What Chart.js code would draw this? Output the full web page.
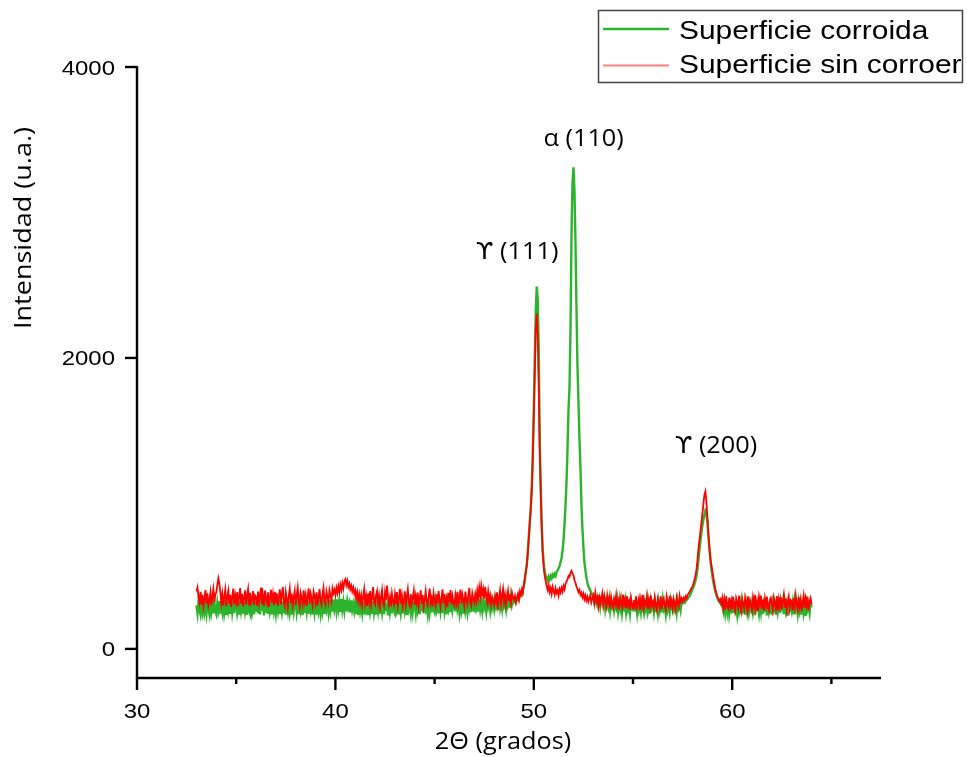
<!DOCTYPE html>
<html><head><meta charset="utf-8">
<script src="https://cdn.jsdelivr.net/npm/chart.js@4/dist/chart.umd.min.js"></script>
<style>html,body{margin:0;padding:0;background:#fff}#wrap{width:967px;height:757px}</style>
</head><body><div id="wrap"><canvas id="c" width="967" height="757"></canvas></div>
<script>
// ---- data ----
const angleStart = 33.0, angleStep = 0.05;   // 2θ grid of the scan
const seriesNames = ['Superficie corroida', 'Superficie sin corroer'];
const xTicks = [30, 35, 40, 45, 50, 55, 60, 65];
const xTickLabels = ['30', '', '40', '', '50', '', '60', ''];
const yTicks = [0, 2000, 4000];
const yTickLabels = ['0', '2000', '4000'];
const xTitle = '2Θ (grados)';
const yTitle = 'Intensidad (u.a.)';
const peakText = ['ϒ (111)', 'α (110)', 'ϒ (200)'];
const peakAt2Theta = [49.16, 52.51, 59.18];
const peakAtIntensity = [2678, 3456, 1349];

const corroida = [
300,245,322,268,236,318,262,335,250,292,241,326,274,238,331,258,309,244,320,262, // 33
238,317,270,329,242,303,256,338,248,296,233,322,265,312,240,327,251,306,246,331, // 34
314,247,290,236,330,261,305,242,324,255,299,234,318,268,243,335,252,300,239,321, // 35
256,328,244,309,238,320,263,299,231,326,249,312,241,334,257,295,237,323,260,307, // 36
243,315,266,336,240,301,254,327,245,318,236,309,262,329,248,293,235,321,257,312, // 37
328,250,304,239,319,261,296,233,332,247,310,256,325,241,300,264,317,238,327,252, // 38
309,236,324,258,298,244,331,262,315,240,326,270,306,252,337,268,320,256,339,274, // 39
318,262,340,277,329,255,343,271,322,265,338,258,327,282,312,251,334,269,305,259, // 40
316,240,302,234,325,259,296,246,321,237,311,262,291,233,318,255,304,241,327,250, // 41
298,236,317,264,330,243,306,252,322,239,309,261,296,231,328,257,314,245,335,260, // 42
242,320,266,301,237,328,253,311,244,324,259,297,233,318,270,305,248,331,256,313, // 43
305,247,327,263,298,239,322,258,336,246,310,268,293,240,329,255,317,251,338,272, // 44
251,326,270,306,244,331,262,317,248,336,257,301,238,324,275,312,253,340,266,308, // 45
320,258,338,271,304,249,329,266,315,243,334,262,309,256,341,279,318,252,327,268, // 46
262,334,281,316,257,340,274,322,266,345,285,311,259,337,290,326,270,348,283,319, // 47
276,342,293,327,268,350,286,334,279,355,297,322,273,346,301,330,284,359,305,338, // 48
322,335,318,340,352,338,365,380,372,405,430,470,540,580,680,780,880,980,1120,1350, // 49
1650,2000,2330,2490,2400,2050,1400,1100,850,680,590,530,505,488,470,495,478,502,486,510, // 50
498,515,502,528,540,556,570,598,625,680,750,860,990,1150,1380,1650,1800,2200,2850,3200, // 51
3310,3150,2800,2350,1950,1700,1450,1250,1000,830,700,600,540,490,455,430,415,400,385,372, // 52
375,332,356,318,349,302,341,287,336,315,298,344,276,329,305,281,338,264,322,290, // 53
317,262,304,281,335,258,311,276,327,249,308,285,331,255,316,270,302,244,325,279, // 54
266,318,282,303,247,329,271,309,256,323,290,250,317,275,335,259,301,243,326,284, // 55
309,254,327,279,298,245,320,266,312,251,331,273,294,240,318,268,306,257,329,285, // 56
262,318,275,304,249,326,283,311,268,322,314,320,316,328,335,342,355,362,378,392, // 57
410,425,445,470,505,550,610,680,740,800,850,890,920,950,935,870,780,690,610,550, // 58
500,460,425,395,372,350,335,322,315,301,301,262,318,248,309,256,323,241,297,270, // 59
312,247,329,266,294,238,318,259,305,243,326,271,299,236,315,262,331,250,289,268, // 60
320,254,301,233,327,268,295,244,316,257,333,240,309,275,290,231,324,262,306,249, // 61
243,317,276,303,235,329,260,311,247,325,281,298,239,320,266,308,228,315,273,296, // 62
260,314,238,326,271,297,242,318,265,309,236,330,252,301,226,312,268,290,247,321, // 63
285
];

const sinCorroer = [
395,422,356,318,392,305,371,296,348,404,312,380,299,336,389,301,366,412,322,378, // 33
388,440,485,450,392,318,377,299,361,408,294,352,397,311,372,289,356,415,306,368, // 34
322,391,296,357,418,310,379,292,350,403,305,371,412,299,385,317,344,398,301,367, // 35
356,298,394,318,372,421,307,360,293,401,335,312,389,288,351,407,320,376,301,393, // 36
313,382,296,358,410,306,371,425,327,295,389,340,288,364,414,318,380,302,355,398, // 37
301,366,419,329,290,384,350,308,402,331,372,295,356,417,312,379,343,299,393,362, // 38
318,389,297,352,411,330,305,375,420,336,309,394,359,322,403,368,331,415,382,406, // 39
372,418,384,429,392,441,406,452,415,463,478,440,468,426,449,410,433,395,421,378, // 40
402,352,389,331,374,320,368,302,359,410,315,363,296,382,325,398,306,357,425,322, // 41
305,371,398,316,366,291,352,404,321,297,387,334,436,361,309,355,294,378,326,303, // 42
372,309,391,298,346,413,311,367,290,333,395,305,358,408,320,296,376,313,351,399, // 43
302,364,318,387,295,343,402,310,370,289,337,396,324,300,361,415,316,349,293,381, // 44
330,297,375,312,398,341,291,353,410,315,379,302,346,288,385,322,405,306,362,317, // 45
296,369,320,392,305,351,408,313,374,335,292,394,341,309,366,419,322,299,381,344, // 46
318,373,330,401,349,420,361,432,374,410,343,427,368,324,392,330,366,305,355,327, // 47
301,358,322,389,298,347,402,314,366,411,326,372,303,351,399,333,375,317,386,352, // 48
338,365,320,352,378,341,395,372,410,388,445,490,530,580,660,760,870,970,1100,1320, // 49
1600,1900,2200,2306,2150,1800,1380,1080,830,650,560,500,465,430,405,440,392,418,378,425, // 50
396,372,415,385,402,366,410,388,420,395,432,410,448,465,478,502,495,525,537,518, // 51
505,472,455,430,412,390,405,372,386,355,378,342,367,333,358,326,349,371,320,346, // 52
368,315,384,329,351,296,372,309,343,381,302,359,324,290,366,318,347,276,355,312, // 53
285,342,309,368,297,331,271,356,318,288,374,305,339,280,361,299,327,268,349,310, // 54
278,336,301,362,284,319,349,270,341,296,372,283,325,306,359,274,338,292,367,301, // 55
320,281,352,299,267,344,315,286,361,274,330,349,292,268,356,311,289,365,302,334, // 56
279,341,305,270,352,318,291,364,326,347,327,350,335,361,348,372,380,392,405,418, // 57
430,452,478,505,545,610,690,750,810,870,930,1000,1060,1083,1010,905,790,700,625,575, // 58
535,490,448,410,382,360,345,328,341,312,349,285,336,270,361,296,278,352,289,330, // 59
272,358,301,265,347,319,282,366,295,258,341,310,276,353,320,268,362,289,334,303, // 60
267,349,295,371,280,326,259,354,310,366,277,339,262,345,298,360,284,263,337,351, // 61
309,268,352,318,277,364,262,340,296,357,271,329,373,284,346,266,322,359,279,335, // 62
325,264,350,291,368,309,270,357,293,338,259,320,366,282,344,298,359,266,327,348, // 63
306
];

// ---- styles / layout ----
const GREEN = '#2db42d', RED = '#ff0000';
const TICK_FONT = "21px 'Liberation Sans'";
const LEG_FONT = "26px 'Liberation Sans'";
const ANN_FONT = "23px 'Open Sans'";
const GREEK_FONT = "23px 'DejaVu Sans'";
const YT_FONT = "20px 'Open Sans'";
const SX = 1.14;

function toPoints(vals) {
  return vals.map((v, i) => ({ x: +(angleStart + i * angleStep).toFixed(2), y: v }));
}

function drawText(ctx, s, x, y, font, align, sx) {
  ctx.save();
  ctx.font = font; ctx.fillStyle = '#000';
  ctx.textAlign = align; ctx.textBaseline = 'alphabetic';
  ctx.translate(x, y); ctx.scale(sx, 1);
  ctx.fillText(s, 0, 0);
  ctx.restore();
}

// label like "ϒ (111)": Greek symbol drawn with a font that has the hooked upsilon
function drawPeakLabel(ctx, s, cx, y, sx) {
  const sym = s.charAt(0), rest = s.slice(1);
  const symFont = sym === 'ϒ' ? GREEK_FONT : ANN_FONT;
  ctx.save();
  ctx.font = symFont;
  const w1 = ctx.measureText(sym).width;
  ctx.font = ANN_FONT;
  const w2 = ctx.measureText(rest).width;
  ctx.restore();
  const x0 = cx - (w1 + w2) * sx / 2;
  drawText(ctx, sym, x0, y, symFont, 'left', sx);
  drawText(ctx, rest, x0 + w1 * sx, y, ANN_FONT, 'left', sx);
}

const decor = {
  id: 'decor',
  afterDraw(chart) {
    const ctx = chart.ctx, xs = chart.scales.x, ys = chart.scales.y;
    const L = xs.getPixelForValue(xs.min), R = xs.getPixelForValue(xs.max);
    const T = ys.getPixelForValue(ys.max), B = ys.getPixelForValue(ys.min);
    ctx.save();
    ctx.strokeStyle = '#000'; ctx.lineWidth = 2.4; ctx.lineCap = 'butt';
    ctx.beginPath();
    ctx.moveTo(L, T - 1); ctx.lineTo(L, B); ctx.lineTo(R, B);
    ctx.stroke();
    yTicks.forEach((v, i) => {
      const py = ys.getPixelForValue(v);
      ctx.beginPath(); ctx.moveTo(L - 12, py); ctx.lineTo(L, py); ctx.stroke();
      drawText(ctx, yTickLabels[i], L - 22, py + 7.5, TICK_FONT, 'right', SX);
    });
    xTicks.forEach((v, i) => {
      const px = xs.getPixelForValue(v);
      const len = xTickLabels[i] ? 12 : 6;
      ctx.beginPath(); ctx.moveTo(px, B); ctx.lineTo(px, B + len); ctx.stroke();
      if (xTickLabels[i]) drawText(ctx, xTickLabels[i], px, B + 40, TICK_FONT, 'center', SX);
    });
    ctx.restore();

    // axis titles
    drawText(ctx, xTitle, 503, 749, ANN_FONT, 'center', 1.1);
    ctx.save();
    ctx.font = YT_FONT;
    const w = ctx.measureText(yTitle).width;
    ctx.translate(31, 228); ctx.rotate(-Math.PI / 2);
    ctx.scale(202 / w, 1.2);
    ctx.fillStyle = '#000'; ctx.textAlign = 'center'; ctx.textBaseline = 'alphabetic';
    ctx.fillText(yTitle, 0, 0);
    ctx.restore();

    peakText.forEach((s, i) => {
      drawPeakLabel(ctx, s, xs.getPixelForValue(peakAt2Theta[i]), ys.getPixelForValue(peakAtIntensity[i]), 1.1);
    });

    // legend
    ctx.save();
    ctx.strokeStyle = '#444'; ctx.lineWidth = 1.5;
    ctx.strokeRect(598.5, 10.5, 364, 72);
    ctx.lineWidth = 2.5; ctx.strokeStyle = GREEN;
    ctx.beginPath(); ctx.moveTo(603, 29); ctx.lineTo(669, 29); ctx.stroke();
    ctx.lineWidth = 2; ctx.strokeStyle = '#ff8080';
    ctx.beginPath(); ctx.moveTo(603, 65.5); ctx.lineTo(669, 65.5); ctx.stroke();
    ctx.restore();
    drawText(ctx, seriesNames[0], 679, 38.5, LEG_FONT, 'left', 1.15);
    drawText(ctx, seriesNames[1], 679, 72.5, LEG_FONT, 'left', 1.15);
  }
};

function make() {
  new Chart(document.getElementById('c'), {
    type: 'line',
    data: {
      datasets: [
        { label: seriesNames[0], data: toPoints(corroida), borderColor: GREEN, borderWidth: 2.4, order: 1 },
        { label: seriesNames[1], data: toPoints(sinCorroer), borderColor: RED, borderWidth: 1.8, order: 0 }
      ]
    },
    options: {
      responsive: false, animation: false,
      layout: { padding: { left: 137, right: 86, top: 67, bottom: 79 } },
      plugins: { legend: { display: false }, tooltip: { enabled: false } },
      elements: { point: { radius: 0 }, line: { tension: 0, fill: false } },
      scales: {
        x: { type: 'linear', min: 30, max: 67.5, display: false },
        y: { type: 'linear', min: -200, max: 4000, display: false }
      }
    },
    plugins: [decor]
  });
}

let made = false;
function go() { if (!made) { made = true; make(); } }
Promise.all([TICK_FONT, LEG_FONT, ANN_FONT, GREEK_FONT, YT_FONT].map(f => document.fonts.load(f, 'ϒ 2Θ Intensidad 0123')))
  .then(go, go);
setTimeout(go, 1500);
</script>
</body></html>
